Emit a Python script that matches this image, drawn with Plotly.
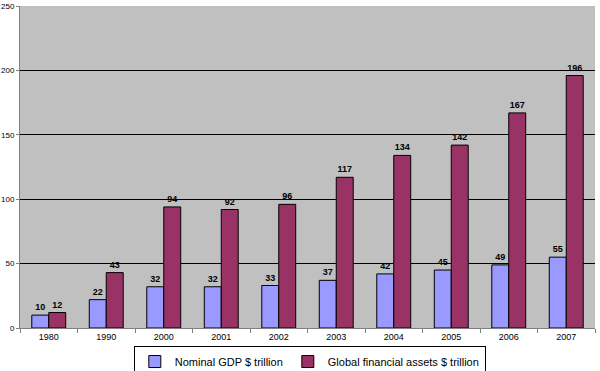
import plotly.graph_objects as go

years = ["1980", "1990", "2000", "2001", "2002", "2003", "2004", "2005", "2006", "2007"]
gdp = [10, 22, 32, 32, 33, 37, 42, 45, 49, 55]
assets = [12, 43, 94, 92, 96, 117, 134, 142, 167, 196]
y_ticks = [0, 50, 100, 150, 200, 250]

label_font = dict(family="Liberation Sans, Arial", size=9, color="#000000", weight="bold")

fig = go.Figure()
fig.add_trace(go.Bar(
    x=years, y=gdp, name="Nominal GDP $ trillion",
    marker=dict(color="#9999FF", line=dict(color="#000000", width=1)),
    text=[str(v) for v in gdp], textposition="outside",
    textfont=label_font, cliponaxis=False,
))
fig.add_trace(go.Bar(
    x=years, y=assets, name="Global financial assets $ trillion",
    marker=dict(color="#993366", line=dict(color="#000000", width=1)),
    text=[str(v) for v in assets], textposition="outside",
    textfont=label_font, cliponaxis=False,
))

fig.update_layout(
    width=600, height=371,
    margin=dict(l=20, r=5, t=6, b=43, autoexpand=False),
    paper_bgcolor="#FFFFFF",
    plot_bgcolor="#C0C0C0",
    barmode="group",
    bargap=0.41,
    bargroupgap=0,
    font=dict(family="Liberation Sans, Arial", size=9, color="#000000"),
    showlegend=True,
    legend=dict(
        orientation="h", x=0.504, xanchor="center", y=-0.056, yanchor="top",
        bordercolor="#000000", borderwidth=1, bgcolor="#FFFFFF",
        font=dict(size=11), itemwidth=30, tracegroupgap=0,
    ),
    xaxis=dict(
        type="category", showgrid=False, showline=True, linecolor="#808080", linewidth=1,
        ticks="outside", tickson="boundaries", ticklen=4, tickcolor="#808080",
        tickfont=dict(size=9), automargin=False,
    ),
    yaxis=dict(
        range=[0, 250], tickvals=y_ticks, showgrid=True, gridcolor="#000000", gridwidth=1,
        showline=True, linecolor="#808080", linewidth=1, ticks="outside", ticklen=3,
        tickcolor="#808080", tickfont=dict(size=8), zeroline=False, automargin=False,
    ),
)

fig.write_html(
    "out.html",
    config={"displayModeBar": False},
    post_script="document.body.style.margin='0px';document.body.style.padding='0px';",
)
